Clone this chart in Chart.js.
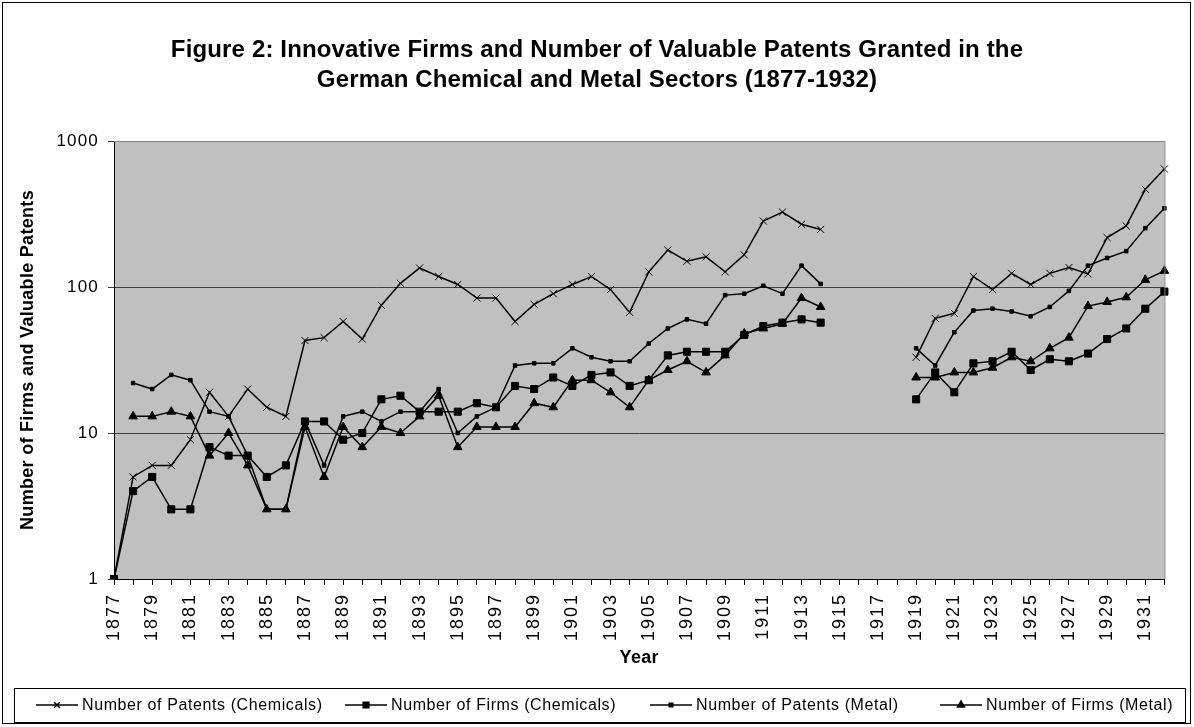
<!DOCTYPE html>
<html>
<head>
<meta charset="utf-8">
<script src="https://cdn.jsdelivr.net/npm/chart.js@4.4.1/dist/chart.umd.min.js"></script>
<style>
  html, body { margin: 0; padding: 0; background: #fff; }
  #wrap { width: 1194px; height: 727px; position: relative; }
</style>
</head>
<body>
<div id="wrap"><canvas id="c" width="1194" height="727"></canvas></div>
<script>
const years = [1877,1878,1879,1880,1881,1882,1883,1884,1885,1886,1887,1888,1889,1890,1891,1892,1893,1894,1895,1896,1897,1898,1899,1900,1901,1902,1903,1904,1905,1906,1907,1908,1909,1910,1911,1912,1913,1914,1915,1916,1917,1918,1919,1920,1921,1922,1923,1924,1925,1926,1927,1928,1929,1930,1931,1932];

const patentsChemicals = [1,5,6,6,9,19,13,20,15,13,43,45,58,44,75,106,135,118,104,84,84,58,76,90,104,118,96,67,127,179,150,161,127,166,283,326,269,248,null,null,null,null,33,61,66,118,96,124,104,124,136,123,218,262,467,643];

const firmsChemicals = [1,4,5,3,3,8,7,7,5,6,12,12,9,10,17,18,14,14,14,16,15,21,20,24,21,25,26,21,23,34,36,36,36,47,54,57,60,57,null,null,null,null,17,26,19,30,31,36,27,32,31,35,44,52,71,93];

const patentsMetal = [null,22,20,25,23,14,13,7,3,3,12,6,13,14,12,14,14,20,10,13,15,29,30,30,38,33,31,31,41,52,60,56,88,90,102,90,140,105,null,null,null,null,38,29,49,69,71,68,63,73,94,140,158,176,253,346];

const firmsMetal = [null,13,13,14,13,7,10,6,3,3,11,5,11,8,11,10,13,18,8,11,11,11,16,15,23,23,19,15,23,27,31,26,34,48,52,56,84,73,null,null,null,null,24,24,26,26,28,33,31,38,45,74,79,85,112,129];

const yTickValues = [1, 10, 100, 1000];

const titleLines = ['Figure 2: Innovative Firms and Number of Valuable Patents Granted in the',
                    'German Chemical and Metal Sectors (1877-1932)'];

const FONT = "'Liberation Sans', Arial, sans-serif";

// widen text slightly (reference glyphs are wider than Arial at same height)
function spacingFor(font) {
  const m = /(\d+(?:\.\d+)?)px/.exec(font);
  const size = m ? parseFloat(m[1]) : 12;
  const bold = /bold|700/.test(font);
  if (bold && size >= 21) return 0.15;
  if (bold) return 0.3;
  if (size === 18) return 2;
  if (size === 17) return 1.2;
  if (size === 16) return 0.6;
  return 0;
}

const frame = {
  id: 'frame',
  beforeInit(chart) {
    const ctx = chart.ctx;
    const orig = ctx.fillText;
    ctx.fillText = function (t, x, y, mw) {
      try { this.letterSpacing = spacingFor(this.font) + 'px'; } catch (e) {}
      return mw === undefined ? orig.call(this, t, x, y) : orig.call(this, t, x, y, mw);
    };
  },
  beforeDraw(chart) {
    const ctx = chart.ctx, a = chart.chartArea;
    ctx.save();
    ctx.fillStyle = '#fff';
    ctx.fillRect(0, 0, chart.width, chart.height);
    ctx.strokeStyle = '#000';
    ctx.lineWidth = 1;
    ctx.strokeRect(2.5, 2.5, 1188, 721);
    ctx.fillStyle = '#c0c0c0';
    ctx.fillRect(a.left, a.top, a.right - a.left, a.bottom - a.top);
    ctx.restore();
  },
  afterDatasetsDraw(chart) {
    const ctx = chart.ctx, a = chart.chartArea;
    ctx.save();
    ctx.strokeStyle = '#808080';
    ctx.lineWidth = 1;
    ctx.beginPath();
    ctx.moveTo(a.left, a.top + 0.5);
    ctx.lineTo(a.right + 0.5, a.top + 0.5);
    ctx.lineTo(a.right + 0.5, a.bottom);
    ctx.stroke();
    ctx.restore();
  },
  afterDraw(chart) {
    const ctx = chart.ctx;
    ctx.save();
    // title
    ctx.fillStyle = '#000';
    ctx.font = 'bold 24px ' + FONT;
    ctx.textAlign = 'center';
    ctx.textBaseline = 'middle';
    ctx.fillText(titleLines[0], 597, 50);
    ctx.fillText(titleLines[1], 597, 80);
    // legend
    const bx = 14.5, by = 688.5, bw = 1171, bh = 34;
    ctx.strokeStyle = '#000';
    ctx.lineWidth = 1;
    ctx.strokeRect(bx, by, bw, bh);
    const starts = [36, 345, 650, 940];
    const cy = 705;
    ctx.font = '16px ' + FONT;
    ctx.textBaseline = 'middle';
    ctx.textAlign = 'left';
    chart.data.datasets.forEach((ds, i) => {
      const x0 = starts[i];
      ctx.strokeStyle = '#000';
      ctx.lineWidth = 1.5;
      ctx.beginPath();
      ctx.moveTo(x0, cy);
      ctx.lineTo(x0 + 42, cy);
      ctx.stroke();
      ctx.fillStyle = '#000';
      Chart.helpers.drawPoint(ctx, {
        pointStyle: ds.pointStyle,
        radius: ds.legendRadius,
        borderWidth: 1,
        rotation: 0
      }, x0 + 21, cy);
      ctx.fillStyle = '#000';
      ctx.fillText(ds.label, x0 + 46, cy + 1);
    });
    ctx.restore();
  }
};

const mk = (label, data, style, r) => ({
  label, data,
  borderColor: '#000', backgroundColor: '#000',
  borderWidth: 1.5,
  pointStyle: style, pointRadius: r, pointHoverRadius: r,
  pointBorderColor: '#000', pointBackgroundColor: '#000', pointBorderWidth: 1,
  legendRadius: Math.min(r, 4),
  tension: 0, spanGaps: false
});

new Chart(document.getElementById('c'), {
  type: 'line',
  data: {
    labels: years,
    datasets: [
      mk('Number of Patents (Chemicals)', patentsChemicals, 'crossRot', 5),
      mk('Number of Firms (Chemicals)', firmsChemicals, 'rect', 5),
      mk('Number of Patents (Metal)', patentsMetal, 'rect', 2.5),
      mk('Number of Firms (Metal)', firmsMetal, 'triangle', 5)
    ]
  },
  options: {
    responsive: false,
    animation: false,
    events: [],
    layout: { padding: { left: 0, right: 21, top: 141, bottom: 58 } },
    plugins: {
      legend: { display: false },
      tooltip: { enabled: false },
      title: { display: false }
    },
    scales: {
      x: {
        type: 'category',
        offset: false,
        border: { display: true, color: '#000', width: 1 },
        grid: { drawOnChartArea: false, drawTicks: true, tickLength: 6, color: '#000' },
        ticks: {
          autoSkip: false, maxRotation: 90, minRotation: 90, padding: 8,
          color: '#000', font: { family: FONT, size: 18 },
          callback: (v, i) => (i % 2 === 0 ? String(years[i]) : '')
        },
        title: { display: true, text: 'Year', color: '#000', font: { family: FONT, size: 18, weight: 'bold' }, padding: { top: 0, bottom: 0 } },
        afterFit: s => { s.height = 90; }
      },
      y: {
        type: 'logarithmic',
        min: 1, max: 1000,
        border: { display: true, color: '#000', width: 1 },
        grid: { color: '#404040', lineWidth: 1, tickLength: 6, drawTicks: true },
        afterBuildTicks: s => { s.ticks = yTickValues.map(v => ({ value: v })); },
        ticks: {
          padding: 9, color: '#000', font: { family: FONT, size: 17 },
          callback: v => String(v)
        },
        title: { display: true, text: 'Number of Firms and Valuable Patents', color: '#000', font: { family: FONT, size: 18, weight: 'bold' }, padding: { top: 17, bottom: 0 } },
        afterFit: s => { s.width = 114; }
      }
    }
  },
  plugins: [frame]
});
</script>
</body>
</html>
